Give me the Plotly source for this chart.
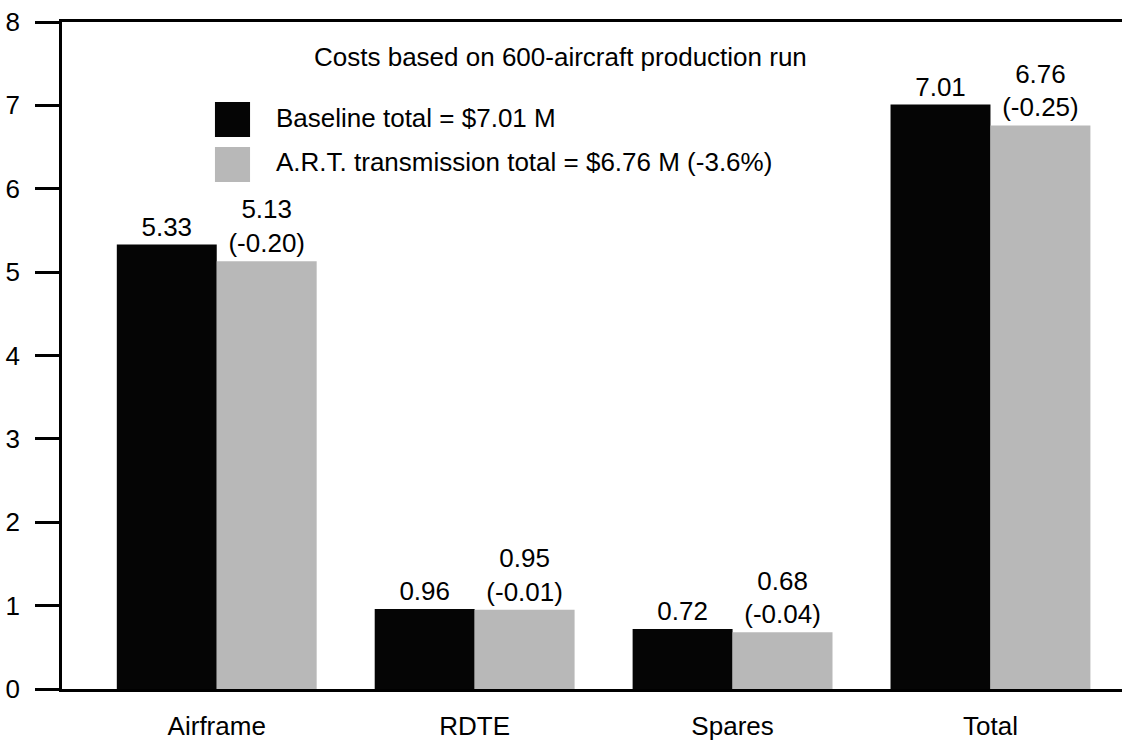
import plotly.graph_objects as go

categories = ["Airframe", "RDTE", "Spares", "Total"]
baseline = [5.33, 0.96, 0.72, 7.01]
art = [5.13, 0.95, 0.68, 6.76]
art_delta = ["(-0.20)", "(-0.01)", "(-0.04)", "(-0.25)"]
y_ticks = [0, 1, 2, 3, 4, 5, 6, 7, 8]
legend_names = ["Baseline total = $7.01 M", "A.R.T. transmission total = $6.76 M (-3.6%)"]
note_text = "Costs based on 600-aircraft production run"

FONT = "Liberation Sans, Arial, Helvetica, sans-serif"
FS = 26
BLACK = "#050505"
GRAY = "#b8b8b8"

base_text = [f"{v:.2f}" for v in baseline]
art_text = [f"{v:.2f}<br>{d}" for v, d in zip(art, art_delta)]

fig = go.Figure()
fig.add_trace(go.Bar(x=categories, y=baseline, name=legend_names[0],
                     marker=dict(color=BLACK, line=dict(width=0)),
                     text=base_text, textposition="outside", cliponaxis=False,
                     textfont=dict(family=FONT, size=FS, color="black"),
                     constraintext="none"))
fig.add_trace(go.Bar(x=categories, y=art, name=legend_names[1],
                     marker=dict(color=GRAY, line=dict(width=0)),
                     text=art_text, textposition="outside", cliponaxis=False,
                     textfont=dict(family=FONT, size=FS, color="black"),
                     constraintext="none"))

fig.update_layout(
    width=1122, height=741,
    margin=dict(l=62, r=0, t=22, b=52),
    paper_bgcolor="white", plot_bgcolor="white",
    barmode="group", bargap=0.225, bargroupgap=0,
    showlegend=False,
    font=dict(family=FONT, size=FS, color="black"),
)
fig.update_xaxes(range=[-0.6, 3.51], showline=True, linecolor="black", linewidth=2.5,
                 mirror=True, ticks="", showgrid=False, zeroline=False,
                 tickfont=dict(family=FONT, size=FS, color="black"),
                 ticklabelstandoff=12)
fig.update_yaxes(range=[0, 8], tickvals=y_ticks, showline=True, linecolor="black",
                 linewidth=2.5, ticks="outside", ticklen=24, tickwidth=2.5,
                 tickcolor="black", showgrid=False, zeroline=False,
                 tickfont=dict(family=FONT, size=FS, color="black"),
                 ticklabelstandoff=10)

# note text
fig.add_annotation(text=note_text, xref="paper", yref="paper", x=0.470, y=0.9475,
                   xanchor="center", yanchor="middle", showarrow=False,
                   font=dict(family=FONT, size=FS, color="black"))

# manual legend
sw = [(0.880, 0.8276, BLACK), (0.8126, 0.7601, GRAY)]
for (y1, y0, col), name, ty in zip(sw, legend_names, [0.856, 0.790]):
    fig.add_shape(type="rect", xref="paper", yref="paper", x0=0.1443, x1=0.1774,
                  y0=y0, y1=y1, fillcolor=col, line=dict(width=0))
    fig.add_annotation(text=name, xref="paper", yref="paper", x=0.2, y=ty,
                       xanchor="left", yanchor="middle", showarrow=False,
                       font=dict(family=FONT, size=FS, color="black"))

fig.write_html("out.html")
